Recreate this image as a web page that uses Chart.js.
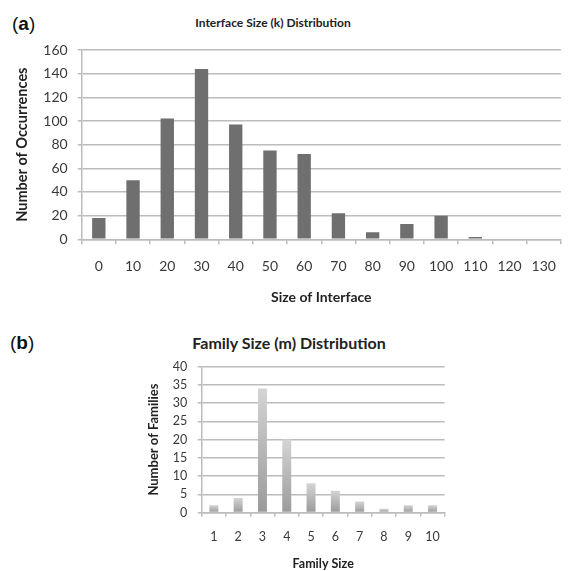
<!DOCTYPE html>
<html>
<head>
<meta charset="utf-8">
<script src="https://cdn.jsdelivr.net/npm/chart.js@4"></script>
<style>
  html, body { margin: 0; padding: 0; background: #fff; overflow: hidden; }
  body { width: 568px; height: 571px; position: relative; font-family: Lato, sans-serif; color: #222; }
  .panel { position: absolute; font-family: "Liberation Sans", Arial, sans-serif; font-size: 19px; line-height: 1; color: #111; }
  .title { position: absolute; font-weight: bold; white-space: nowrap; transform: translate(-50%, -50%); line-height: 1; }
  #chartA { position: absolute; left: 0; top: 0; }
  #chartB { position: absolute; left: 140px; top: 330px; }
</style>
</head>
<body>
<div class="panel" style="left:12px; top:14px;">(<b>a</b>)</div>
<div class="title" style="left:273px; top:23px; font-size:12px;">Interface Size (k) Distribution</div>
<canvas id="chartA" width="570" height="310"></canvas>

<div class="panel" style="left:10px; top:333px;">(<b>b</b>)</div>
<div class="title" style="left:289px; top:343px; font-size:16px;">Family Size (m) Distribution</div>
<canvas id="chartB" width="320" height="241"></canvas>

<script>
// (a) interface size distribution
var sizeLabels = ["0", "10", "20", "30", "40", "50", "60", "70", "80", "90", "100", "110", "120", "130"];
var sizeCounts = [18, 50, 102, 144, 97, 75, 72, 22, 6, 13, 20, 2, 0, 0];
var occTicks = [0, 20, 40, 60, 80, 100, 120, 140, 160];

// (b) family size distribution
var familyLabels = ["1", "2", "3", "4", "5", "6", "7", "8", "9", "10"];
var familyCounts = [2, 4, 34, 20, 8, 6, 3, 1, 2, 2];
var famTicks = [0, 5, 10, 15, 20, 25, 30, 35, 40];

var gridGray = "#bcbcbc";
var tickColor = "#3a3a3a";

var chartA = new Chart(document.getElementById("chartA"), {
  type: "bar",
  data: {
    labels: sizeLabels,
    datasets: [{
      data: sizeCounts,
      backgroundColor: "#6f6f6f",
      categoryPercentage: 1,
      barPercentage: 0.39
    }]
  },
  options: {
    responsive: false,
    animation: false,
    layout: { padding: { top: 50, right: 1, left: 0, bottom: 0 } },
    plugins: { legend: { display: false }, tooltip: { enabled: false } },
    scales: {
      x: {
        grid: { drawOnChartArea: false, tickLength: 5, color: gridGray, lineWidth: 1.5, offset: true },
        border: { color: gridGray, width: 1.5 },
        ticks: { padding: 14, color: tickColor, font: { family: "Lato", size: 14 } },
        title: {
          display: true, text: "Size of Interface", color: "#222",
          font: { family: "Lato", size: 14, weight: "bold" },
          padding: { top: 0, bottom: 4 }
        },
        afterFit: function (s) { s.height = 70.7; }
      },
      y: {
        min: 0, max: 160,
        afterBuildTicks: function (s) { s.ticks = occTicks.map(function (v) { return { value: v }; }); },
        grid: { color: gridGray, lineWidth: 1.5, tickLength: 4 },
        border: { color: gridGray, width: 1.5 },
        ticks: { padding: 10, color: tickColor, font: { family: "Lato", size: 14 } },
        title: {
          display: true, text: "Number of Occurrences", color: "#222",
          font: { family: "Lato", size: 14.5, weight: "bold" },
          padding: { top: 14, bottom: 0 }
        },
        afterFit: function (s) { s.width = 81.7; }
      }
    }
  }
});

// light gradient per bar, like the original spreadsheet chart
function familyFill(ctx) {
  var chart = ctx.chart;
  var y = chart.scales.y;
  if (!y || ctx.type !== "data") return "#bbbbbb";
  var top = y.getPixelForValue(familyCounts[ctx.dataIndex]);
  var base = y.getPixelForValue(0);
  if (!isFinite(top) || !isFinite(base)) return "#bbbbbb";
  var g = chart.ctx.createLinearGradient(0, top, 0, base + 0.01);
  g.addColorStop(0, "#d4d4d4");
  g.addColorStop(1, "#9a9a9a");
  return g;
}

var chartB = new Chart(document.getElementById("chartB"), {
  type: "bar",
  data: {
    labels: familyLabels,
    datasets: [{
      data: familyCounts,
      backgroundColor: familyFill,
      categoryPercentage: 1,
      barPercentage: 0.37
    }]
  },
  options: {
    responsive: false,
    animation: false,
    layout: { padding: { top: 36.7, right: 15.3, left: 0, bottom: 0 } },
    plugins: { legend: { display: false }, tooltip: { enabled: false } },
    scales: {
      x: {
        grid: { drawOnChartArea: false, tickLength: 4, color: gridGray, lineWidth: 1.5, offset: true },
        border: { color: gridGray, width: 1.5 },
        ticks: { padding: 12.7, color: tickColor, font: { family: "Lato", size: 12.5 } },
        title: {
          display: true, text: "Family Size", color: "#222",
          font: { family: "Lato", size: 12.5, weight: "bold" },
          padding: { top: 0, bottom: 0 }
        },
        afterFit: function (s) { s.height = 58.5; }
      },
      y: {
        min: 0, max: 40,
        afterBuildTicks: function (s) { s.ticks = famTicks.map(function (v) { return { value: v }; }); },
        grid: { color: gridGray, lineWidth: 1.5, tickLength: 4 },
        border: { color: gridGray, width: 1.5 },
        ticks: { padding: 10.4, color: tickColor, font: { family: "Lato", size: 12.5 } },
        title: {
          display: true, text: "Number of Families", color: "#222",
          font: { family: "Lato", size: 13, weight: "bold" },
          padding: { top: 6, bottom: 0 }
        },
        afterFit: function (s) { s.width = 61.7; }
      }
    }
  }
});
chartB.update();
</script>
</body>
</html>
